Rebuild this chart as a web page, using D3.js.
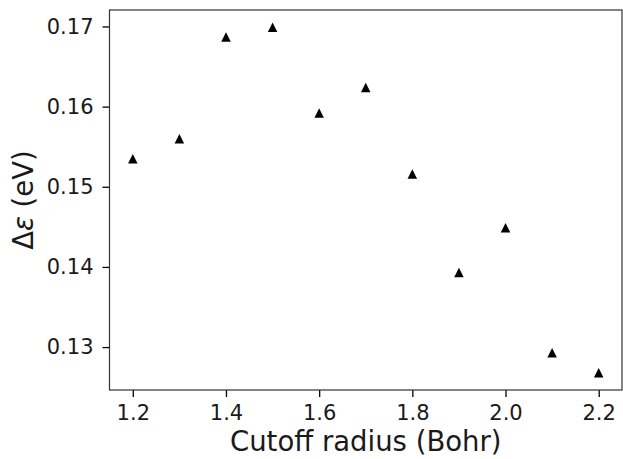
<!DOCTYPE html>
<html>
<head>
<meta charset="utf-8">
<script src="https://cdn.jsdelivr.net/npm/d3@7"></script>
<style>
  body { margin: 0; background: #fff; }
  text { font-family: "DejaVu Sans", sans-serif; fill: #000; }
</style>
</head>
<body>
<div id="chart"></div>
<script>
// cutoff radius (Bohr) vs delta epsilon (eV)
const radius = [1.2, 1.3, 1.4, 1.5, 1.6, 1.7, 1.8, 1.9, 2.0, 2.1, 2.2];
const deltaE = [0.1535, 0.1560, 0.1687, 0.1699, 0.1592, 0.1624, 0.1516, 0.1393, 0.1449, 0.1293, 0.1268];
const xTicks = [1.2, 1.4, 1.6, 1.8, 2.0, 2.2];
const yTicks = [0.13, 0.14, 0.15, 0.16, 0.17];

const W = 623, H = 459;
const margin = { left: 109.5, right: 622, top: 10, bottom: 390 };

const svg = d3.select("#chart")
  .append("svg")
  .attr("width", W)
  .attr("height", H);

// same 5% padding as matplotlib
const xMin = d3.min(radius), xMax = d3.max(radius);
const yMin = d3.min(deltaE), yMax = d3.max(deltaE);
const xPad = (xMax - xMin) * 0.05, yPad = (yMax - yMin) * 0.05;

const x = d3.scaleLinear()
  .domain([xMin - xPad, xMax + xPad])
  .range([margin.left, margin.right]);
const y = d3.scaleLinear()
  .domain([yMin - yPad, yMax + yPad])
  .range([margin.bottom, margin.top]);

const xAxis = svg.append("g")
  .attr("transform", "translate(0," + margin.bottom + ")")
  .call(d3.axisBottom(x).tickValues(xTicks).tickFormat(d3.format(".1f")).tickSize(7).tickPadding(8));
const yAxis = svg.append("g")
  .attr("transform", "translate(" + margin.left + ",0)")
  .call(d3.axisLeft(y).tickValues(yTicks).tickFormat(d3.format(".2f")).tickSize(7).tickPadding(9));

[xAxis, yAxis].forEach(function (g) {
  g.select(".domain").remove();
  g.selectAll(".tick line").attr("stroke", "#000").attr("stroke-width", 1.3);
  g.selectAll(".tick text").style("font-size", "21px").style("fill", "#1a1a1a");
});

// frame
svg.append("rect")
  .attr("x", margin.left)
  .attr("y", margin.top)
  .attr("width", margin.right - margin.left)
  .attr("height", margin.bottom - margin.top)
  .attr("fill", "none")
  .attr("stroke", "#333")
  .attr("stroke-width", 1.2);

// matplotlib style '^' marker: width = height = s
const triangle = {
  draw(ctx, s) {
    const h = s / 2;
    ctx.moveTo(0, -h);
    ctx.lineTo(h, h);
    ctx.lineTo(-h, h);
    ctx.closePath();
  }
};

svg.append("g")
  .selectAll("path")
  .data(radius)
  .enter()
  .append("path")
  .attr("transform", function (d, i) { return "translate(" + x(d) + "," + y(deltaE[i]) + ")"; })
  .attr("d", d3.symbol().type(triangle).size(9.5))
  .attr("fill", "#000");

// axis labels
svg.append("text")
  .attr("x", (margin.left + margin.right) / 2)
  .attr("y", 451)
  .attr("text-anchor", "middle")
  .style("font-size", "27.5px")
  .style("fill", "#1a1a1a")
  .text("Cutoff radius (Bohr)");

const yl = svg.append("text")
  .attr("transform", "translate(33," + (margin.top + margin.bottom) / 2 + ") rotate(-90)")
  .attr("text-anchor", "middle")
  .style("font-size", "27.5px")
  .style("fill", "#1a1a1a");
yl.append("tspan").text("Δ");
yl.append("tspan").style("font-style", "italic").text("ε");
yl.append("tspan").text(" (eV)");
</script>
</body>
</html>
